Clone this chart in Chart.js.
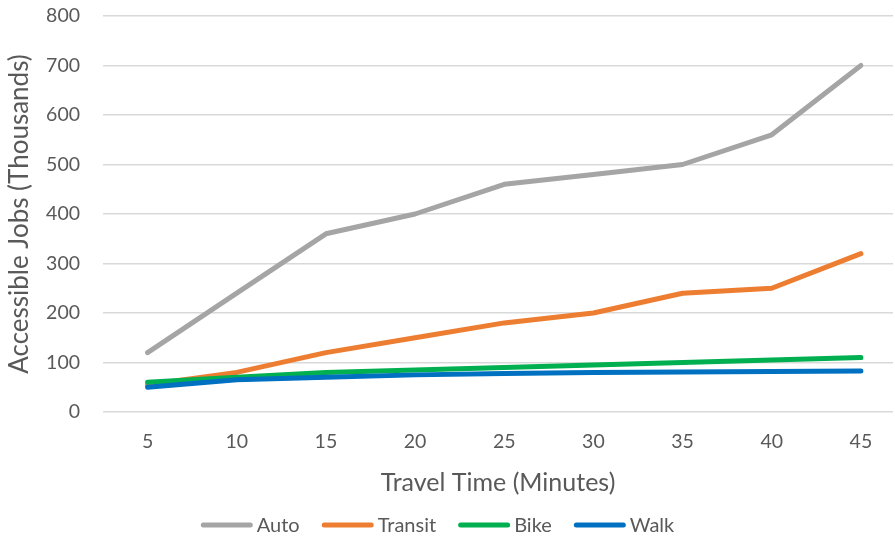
<!DOCTYPE html>
<html>
<head>
<meta charset="utf-8">
<script src="https://cdn.jsdelivr.net/npm/chart.js@4/dist/chart.umd.min.js"></script>
<style>
  html, body { margin: 0; padding: 0; background: #ffffff; }
  #wrap { width: 895px; height: 540px; }
</style>
</head>
<body>
<div id="wrap"><canvas id="chart" width="895" height="540"></canvas></div>
<script>
// Travel time in minutes (x categories)
const travelMinutes = [5, 10, 15, 20, 25, 30, 35, 40, 45];

// Accessible jobs, thousands, per travel mode
const autoJobs    = [120, 240, 360, 400, 460, 480, 500, 560, 700];
const transitJobs = [55, 80, 120, 150, 180, 200, 240, 250, 320];
const bikeJobs    = [60, 70, 80, 85, 90, 95, 100, 105, 110];
const walkJobs    = [50, 65, 70, 75, 78, 80, 81, 82, 83];

const seriesNames  = ['Auto', 'Transit', 'Bike', 'Walk'];
const seriesColors = ['#A5A5A5', '#ED7D31', '#00B050', '#0070C0'];
const seriesValues = [autoJobs, transitJobs, bikeJobs, walkJobs];

const yTicks = [0, 100, 200, 300, 400, 500, 600, 700, 800];

const FONT = 'Lato, "Open Sans", sans-serif';
const TEXT = '#595959';

const datasets = seriesNames.map((name, i) => ({
  label: name,
  data: travelMinutes.map((m, j) => ({ x: m, y: seriesValues[i][j] })),
  borderColor: seriesColors[i],
  backgroundColor: seriesColors[i],
  borderWidth: 5,
  borderCapStyle: 'round',
  borderJoinStyle: 'round',
  pointRadius: 0,
  pointHoverRadius: 0,
  tension: 0,
  fill: false,
  order: seriesNames.length - i
}));

// Legend row under the x-axis title: short line swatch followed by the series name
const lineLegend = {
  id: 'lineLegend',
  afterDraw(chart) {
    const ctx = chart.ctx;
    const swatch = 52, gap = 4, spacing = 22, cy = 525, centerX = 437.5;
    ctx.save();
    ctx.font = '20px ' + FONT;
    const items = chart.data.datasets.map(ds => ({
      text: ds.label, color: ds.borderColor, w: ctx.measureText(ds.label).width
    }));
    const total = items.reduce((s, it) => s + swatch + gap + it.w, 0) + spacing * (items.length - 1);
    let x = centerX - total / 2;
    items.forEach(it => {
      ctx.beginPath();
      ctx.lineWidth = 5;
      ctx.lineCap = 'round';
      ctx.strokeStyle = it.color;
      ctx.moveTo(x + 2.5, cy);
      ctx.lineTo(x + swatch - 2.5, cy);
      ctx.stroke();
      ctx.fillStyle = TEXT;
      ctx.textBaseline = 'middle';
      ctx.textAlign = 'left';
      ctx.fillText(it.text, x + swatch + gap, cy + 1);
      x += swatch + gap + it.w + spacing;
    });
    ctx.restore();
  }
};

new Chart(document.getElementById('chart'), {
  type: 'line',
  data: { datasets },
  plugins: [lineLegend],
  options: {
    responsive: false,
    animation: false,
    events: [],
    layout: { padding: { left: 0, right: 2, top: 16, bottom: 38 } },
    scales: {
      x: {
        type: 'linear',
        min: 2.5,
        max: 46.8,
        grid: { display: false },
        border: { display: false },
        afterBuildTicks: (scale) => { scale.ticks = travelMinutes.map(v => ({ value: v })); },
        afterFit: (scale) => { scale.height = 90; },
        ticks: {
          color: TEXT,
          font: { family: FONT, size: 19.5 },
          padding: 10,
          maxRotation: 0,
          autoSkip: false
        },
        title: {
          display: true,
          text: 'Travel Time (Minutes)',
          color: TEXT,
          font: { family: FONT, size: 25 },
          padding: { top: 0, bottom: 4 }
        }
      },
      y: {
        min: 0,
        max: 800,
        afterBuildTicks: (scale) => { scale.ticks = yTicks.map(v => ({ value: v })); },
        afterFit: (scale) => { scale.width = 103; },
        grid: { color: '#D9D9D9', lineWidth: 1.5, drawTicks: true, tickLength: 23, tickColor: 'rgba(0,0,0,0)' },
        border: { display: false },
        ticks: {
          color: TEXT,
          font: { family: FONT, size: 19.5 },
          padding: 0
        },
        title: {
          display: true,
          text: 'Accessible Jobs (Thousands)',
          color: TEXT,
          font: { family: FONT, size: 26 },
          padding: { top: 4, bottom: 0 }
        }
      }
    },
    plugins: {
      tooltip: { enabled: false },
      legend: { display: false }
    }
  }
});
</script>
</body>
</html>
